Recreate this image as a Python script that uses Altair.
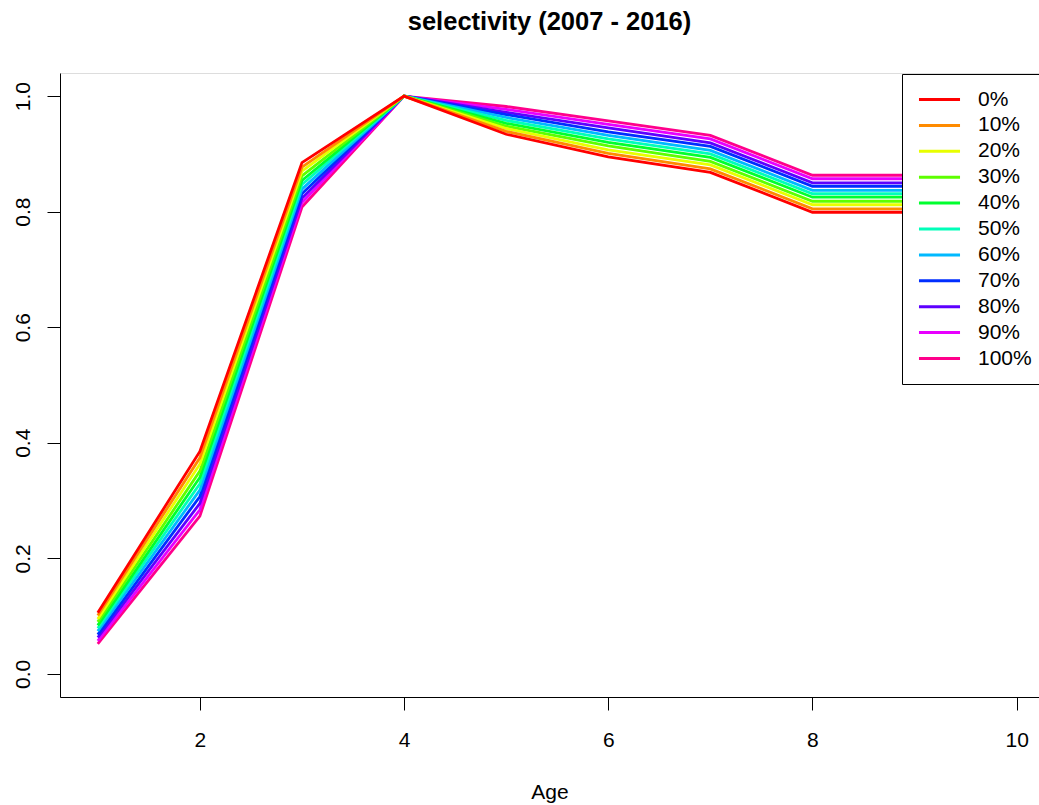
import altair as alt
import pandas as pd

ages = [1, 2, 3, 4, 5, 6, 7, 8, 9, 10]
scenarios = ["0%", "10%", "20%", "30%", "40%", "50%", "60%", "70%", "80%", "90%", "100%"]
colors = ["#FF0000", "#FF8B00", "#E8FF00", "#5DFF00", "#00FF2E", "#00FFB9",
          "#00B9FF", "#002EFF", "#5D00FF", "#E800FF", "#FF008B"]

sel_000 = [0.106, 0.385, 0.885, 1.0, 0.934, 0.895, 0.868, 0.799, 0.799, 0.799]
sel_010 = [0.101, 0.374, 0.877, 1.0, 0.939, 0.901, 0.874, 0.805, 0.805, 0.805]
sel_020 = [0.095, 0.363, 0.870, 1.0, 0.944, 0.907, 0.881, 0.812, 0.812, 0.812]
sel_030 = [0.090, 0.351, 0.862, 1.0, 0.948, 0.914, 0.887, 0.818, 0.818, 0.818]
sel_040 = [0.084, 0.340, 0.854, 1.0, 0.953, 0.920, 0.894, 0.825, 0.825, 0.825]
sel_050 = [0.079, 0.329, 0.847, 1.0, 0.958, 0.926, 0.900, 0.831, 0.831, 0.831]
sel_060 = [0.074, 0.318, 0.839, 1.0, 0.963, 0.932, 0.906, 0.837, 0.837, 0.837]
sel_070 = [0.068, 0.307, 0.831, 1.0, 0.968, 0.938, 0.913, 0.844, 0.844, 0.844]
sel_080 = [0.063, 0.295, 0.823, 1.0, 0.972, 0.945, 0.919, 0.850, 0.850, 0.850]
sel_090 = [0.057, 0.284, 0.816, 1.0, 0.977, 0.951, 0.926, 0.857, 0.857, 0.857]
sel_100 = [0.052, 0.273, 0.808, 1.0, 0.982, 0.957, 0.932, 0.863, 0.863, 0.863]

series = [sel_000, sel_010, sel_020, sel_030, sel_040, sel_050,
          sel_060, sel_070, sel_080, sel_090, sel_100]

x_ticks = [2, 4, 6, 8, 10]
y_ticks = [0.0, 0.2, 0.4, 0.6, 0.8, 1.0]

rows = []
# draw 100% first so 0% (red) ends on top
for name, vals in reversed(list(zip(scenarios, series))):
    for a, v in zip(ages, vals):
        rows.append({"age": a, "sel": v, "scenario": name})
df = pd.DataFrame(rows)

FONT = "Liberation Sans"

chart = alt.Chart(df).mark_line(strokeWidth=2.8).encode(
    x=alt.X("age:Q",
            scale=alt.Scale(domain=[0.63, 10.219], nice=False, zero=False),
            axis=alt.Axis(values=x_ticks, format="d", title="Age", grid=False,
                          tickSize=13, tickColor="black", domainColor="black",
                          labelFont=FONT, labelFontSize=21, labelColor="black",
                          labelBaseline="alphabetic", labelPadding=36,
                          titleFont=FONT, titleFontSize=21, titleFontWeight="normal",
                          titleColor="black", titleBaseline="alphabetic", titleY=101)),
    y=alt.Y("sel:Q",
            scale=alt.Scale(domain=[-0.04, 1.04], nice=False, zero=False),
            axis=alt.Axis(values=y_ticks, format=".1f", title=None, grid=False,
                          tickSize=13, tickColor="black", domainColor="black",
                          labelFont=FONT, labelFontSize=21, labelColor="black",
                          labelAngle=270, labelAlign="center",
                          labelBaseline="alphabetic", labelPadding=18)),
    color=alt.Color("scenario:N",
                    scale=alt.Scale(domain=scenarios, range=colors),
                    legend=alt.Legend(orient="none", legendX=842, legendY=1,
                                      direction="vertical", title=None,
                                      strokeColor="black", fillColor="white",
                                      padding=15, symbolType="M-2.28,0H2.28",
                                      symbolSize=324, symbolStrokeWidth=3,
                                      symbolOffset=12, labelOffset=28,
                                      labelFont=FONT, labelFontSize=21,
                                      labelColor="black", rowPadding=3.9)),
).properties(
    width=979,
    height=624,
    title=alt.TitleParams("selectivity (2007 - 2016)", font=FONT, fontSize=25.5,
                          fontWeight="bold", color="black", anchor="middle",
                          baseline="alphabetic", offset=18),
    autosize=alt.AutoSizeParams(type="none"),
    padding={"left": 60, "top": 73, "right": 0, "bottom": 108},
).configure_view(
    stroke="black", strokeWidth=1
).configure(background="white")

chart.save("out.html", embed_options={"renderer": "svg", "actions": False})
